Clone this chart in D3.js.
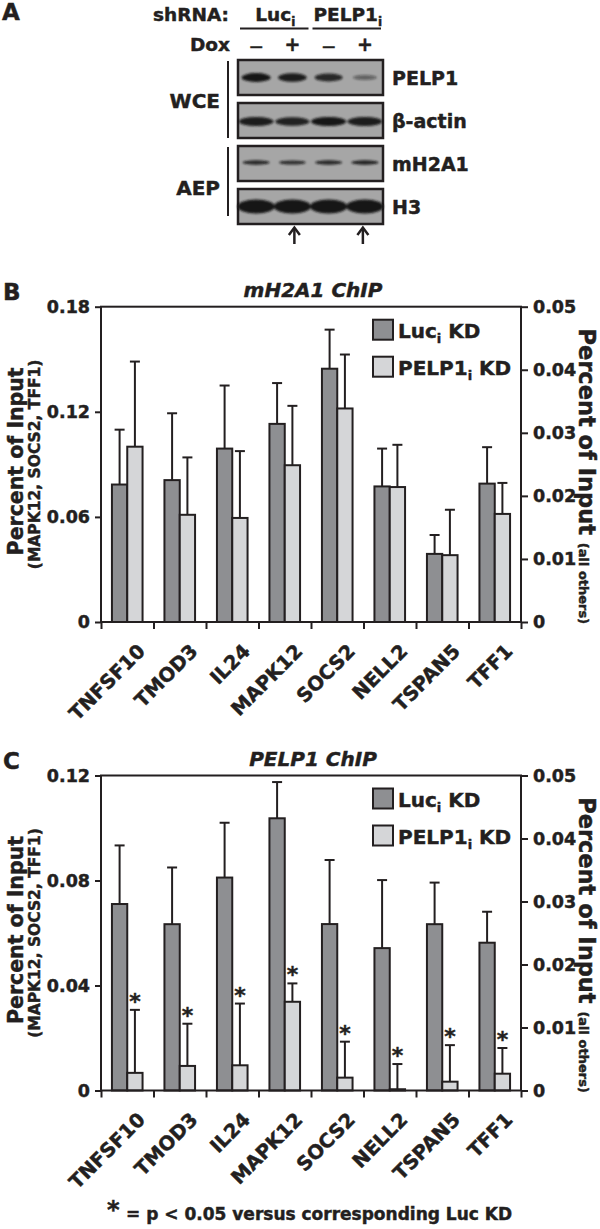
<!DOCTYPE html>
<html><head><meta charset="utf-8">
<script src="https://cdn.jsdelivr.net/npm/d3@7"></script>
<style>
body{margin:0;background:#fff;}
svg{display:block;font-family:"DejaVu Sans",sans-serif;font-weight:bold;}
svg text{stroke:#231f20;stroke-width:0.45px;}
</style></head><body>
<svg id="fig" width="600" height="1229"></svg>
<script>
// ---------------- DATA ----------------
const genes = ["TNFSF10","TMOD3","IL24","MAPK12","SOCS2","NELL2","TSPAN5","TFF1"];
// which y axis each gene is read on (left: MAPK12, SOCS2, TFF1; right: all others)
const axisSide = ["right","right","right","left","left","right","right","left"];
const seriesKeys = ["luc","pelp"];

// Panel B: mH2A1 ChIP (percent of input)
const mh2a1Luc     = [0.0218, 0.0225, 0.0275, 0.1131, 0.1446, 0.0215, 0.0108, 0.0790];
const mh2a1LucErr  = [0.0087, 0.0106, 0.0100, 0.0233, 0.0223, 0.0060, 0.0030, 0.0208];
const mh2a1Pelp    = [0.0278, 0.0170, 0.0165, 0.0895, 0.1219, 0.0214, 0.0106, 0.0617];
const mh2a1PelpErr = [0.0135, 0.0091, 0.0106, 0.0339, 0.0308, 0.0067, 0.0072, 0.0177];

// Panel C: PELP1 ChIP (percent of input)
const pelp1Luc     = [0.0296, 0.0264, 0.0338, 0.1037, 0.0634, 0.0226, 0.0264, 0.0563];
const pelp1LucErr  = [0.0093, 0.0090, 0.0087, 0.0138, 0.0244, 0.0108, 0.0066, 0.0118];
const pelp1Pelp    = [0.0028, 0.0039, 0.0040, 0.0338, 0.0049, 0.0002, 0.0014, 0.0064];
const pelp1PelpErr = [0.0100, 0.0067, 0.0098, 0.0070, 0.0137, 0.0040, 0.0058, 0.0098];
const pelp1Signif  = [true, true, true, true, true, true, true, true];

// axis ticks
const bLeftTicks  = [0, 0.06, 0.12, 0.18];
const cLeftTicks  = [0, 0.04, 0.08, 0.12];
const rightTicks  = [0, 0.01, 0.02, 0.03, 0.04, 0.05];

// Panel A: western blot
const laneIds = ["L-", "L+", "P-", "P+"];
const doxLabels = ["\u2014", "+", "\u2014", "+"];
const shGroups = ["Luc", "PELP1"];
const blotNames = ["PELP1", "\u03b2-actin", "mH2A1", "H3"];
const blotGroups = ["WCE", "AEP"];
const blotIntensity = [
  [1.00, 0.95, 0.85, 0.30],
  [0.95, 0.90, 1.00, 0.95],
  [0.85, 0.80, 0.85, 0.90],
  [1.00, 1.00, 1.00, 1.00]
];
const arrowLanes = [false, true, false, true];

// ---------------- STYLE ----------------
const ink = "#231f20";
const lucFill = "#8e8f92";
const pelpFill = "#d5d6d8";
const svg = d3.select("#fig");

// ---------------- PANEL A ----------------
(function panelA(){
  const g = svg.append("g");
  g.append("text").attr("x", 2).attr("y", 20).style("font-size", "23px").attr("fill", ink).text("A");
  const lane = d3.scaleBand().domain(laneIds).range([238, 383]);
  const lc = d => lane(d) + lane.bandwidth() / 2;

  // header
  g.append("text").attr("x", 229).attr("y", 21).attr("text-anchor", "end").style("font-size", "18.5px").attr("fill", ink).text("shRNA:");
  shGroups.forEach((s, i) => {
    const x0 = lane(laneIds[i * 2]) + 2, x1 = lane(laneIds[i * 2 + 1]) + lane.bandwidth() - 2;
    const t = g.append("text").attr("x", (x0 + x1) / 2 + 1).attr("y", 21).attr("text-anchor", "middle")
      .style("font-size", "18.5px").attr("fill", ink);
    t.append("tspan").text(s);
    t.append("tspan").attr("dy", 5).style("font-size", "12px").text("i");
    g.append("line").attr("x1", x0).attr("x2", x1).attr("y1", 28.5).attr("y2", 28.5).attr("stroke", ink).attr("stroke-width", 2);
  });
  g.append("text").attr("x", 230).attr("y", 51).attr("text-anchor", "end").style("font-size", "18.5px").attr("fill", ink).text("Dox");
  g.selectAll(".dox").data(laneIds).join("text").attr("x", d => lc(d)).attr("y", 51).attr("text-anchor", "middle")
    .style("font-size", (d, i) => doxLabels[i] === "+" ? "19px" : "13px").attr("fill", ink).text((d, i) => doxLabels[i]);

  // blur filter
  const defs = svg.append("defs");
  defs.append("filter").attr("id", "blur").attr("x", "-20%").attr("y", "-60%").attr("width", "140%").attr("height", "220%")
    .append("feGaussianBlur").attr("stdDeviation", 1.1);

  const boxTop = [60, 103, 146, 189], boxH = 35;
  const bandStyle = [
    {rx: 14.5, ry: 4.4, dy: 0},
    {rx: 17.5, ry: 4.6, dy: 1},
    {rx: 14, ry: 2.4, dy: -1},
    {rx: 18.5, ry: 7, dy: 0}
  ];
  blotNames.forEach((name, b) => {
    const y0 = boxTop[b];
    g.append("rect").attr("x", 238).attr("y", y0).attr("width", 145).attr("height", boxH)
      .attr("fill", "#a6a6a6").attr("stroke", ink).attr("stroke-width", 2.5);
    const st = bandStyle[b];
    g.append("g").attr("filter", "url(#blur)").selectAll("ellipse").data(laneIds).join("ellipse")
      .attr("cx", d => lc(d)).attr("cy", y0 + boxH / 2 + st.dy)
      .attr("rx", (d, i) => st.rx * (0.75 + 0.25 * blotIntensity[b][i]))
      .attr("ry", (d, i) => Math.max(0.8, st.ry * (0.35 + 0.65 * blotIntensity[b][i])))
      .attr("fill", "#141414").attr("opacity", (d, i) => 0.25 + 0.75 * blotIntensity[b][i]);
    g.append("text").attr("x", 392).attr("y", y0 + boxH / 2 + 7).style("font-size", "19px").attr("fill", ink).text(name);
  });
  // group brackets
  const grpY = [[61, 138], [147, 216]], grpBase = [108, 195];
  blotGroups.forEach((gname, i) => {
    g.append("line").attr("x1", 228).attr("x2", 228).attr("y1", grpY[i][0]).attr("y2", grpY[i][1]).attr("stroke", ink).attr("stroke-width", 2);
    g.append("text").attr("x", 220).attr("y", grpBase[i]).attr("text-anchor", "end").style("font-size", "20px").attr("fill", ink).text(gname);
  });
  // arrows
  laneIds.forEach((d, i) => {
    if (!arrowLanes[i]) return;
    const x = lc(d) + (i === 1 ? 2 : -2);
    g.append("line").attr("x1", x).attr("x2", x).attr("y1", 244).attr("y2", 228).attr("stroke", ink).attr("stroke-width", 2.5);
    g.append("path").attr("d", `M${x - 5.5},${235} L${x},${227.5} L${x + 5.5},${235}`).attr("fill", "none").attr("stroke", ink).attr("stroke-width", 2.5);
  });
})();

// ---------------- PANELS B & C ----------------
function chartPanel(cfg) {
  const g = svg.append("g");
  const L = 101, R = 521, T = cfg.top, B = cfg.bottom;
  const x0 = d3.scaleBand().domain(genes).range([L, R]).paddingInner(0).paddingOuter(0);
  const x1 = d3.scaleBand().domain(seriesKeys).range([0, x0.bandwidth()]).paddingInner(0).paddingOuter(0.715);
  const xb = d3.scaleLinear().domain([0, genes.length]).range([L, R]);
  const yL = d3.scaleLinear().domain([0, cfg.leftMax]).range([B, T]);
  const yR = d3.scaleLinear().domain([0, 0.05]).range([B, T]);
  const ys = i => axisSide[i] === "left" ? yL : yR;
  const fmt = d => d === 0 ? "0" : d.toFixed(2);

  g.append("text").attr("x", 3).attr("y", T - 7).style("font-size", "23px").attr("fill", ink).text(cfg.letter);
  g.append("text").attr("x", (L + R) / 2 + 2).attr("y", T - 10).attr("text-anchor", "middle")
    .style("font-size", "20px").style("font-style", "italic").attr("fill", ink).text(cfg.title);

  const data = [
    {key: "luc", vals: cfg.luc, errs: cfg.lucErr, fill: lucFill},
    {key: "pelp", vals: cfg.pelp, errs: cfg.pelpErr, fill: pelpFill}
  ];
  data.forEach(s => {
    const gs = g.append("g");
    gs.selectAll("rect").data(genes).join("rect")
      .attr("x", d => x0(d) + x1(s.key)).attr("width", x1.bandwidth())
      .attr("y", (d, i) => ys(i)(s.vals[i])).attr("height", (d, i) => ys(i)(0) - ys(i)(s.vals[i]))
      .attr("fill", s.fill).attr("stroke", ink).attr("stroke-width", 2);
  });
  data.forEach(s => {
    genes.forEach((d, i) => {
      const cx = x0(d) + x1(s.key) + x1.bandwidth() / 2;
      const yTop = ys(i)(s.vals[i] + s.errs[i]), yBar = ys(i)(s.vals[i]);
      g.append("line").attr("x1", cx).attr("x2", cx).attr("y1", yBar).attr("y2", yTop).attr("stroke", ink).attr("stroke-width", 2);
      g.append("line").attr("x1", cx - 5).attr("x2", cx + 5).attr("y1", yTop).attr("y2", yTop).attr("stroke", ink).attr("stroke-width", 2);
      if (s.key === "pelp" && cfg.signif && cfg.signif[i]) {
        g.append("text").attr("x", cx).attr("y", yTop - 1).attr("text-anchor", "middle").style("font-size", "22px").attr("fill", ink).text("*");
      }
    });
  });

  // frame
  g.append("rect").attr("x", L).attr("y", T).attr("width", R - L).attr("height", B - T)
    .attr("fill", "none").attr("stroke", ink).attr("stroke-width", 2);

  // axes
  const axL = g.append("g").attr("transform", `translate(${L},0)`)
    .call(d3.axisLeft(yL).tickValues(cfg.leftTicks).tickFormat(fmt).tickSize(6).tickSizeOuter(0).tickPadding(5));
  const axR = g.append("g").attr("transform", `translate(${R},0)`)
    .call(d3.axisRight(yR).tickValues(rightTicks).tickFormat(fmt).tickSize(7).tickSizeOuter(0).tickPadding(5));
  const axB = g.append("g").attr("transform", `translate(0,${B})`)
    .call(d3.axisBottom(xb).tickValues(d3.range(genes.length + 1)).tickFormat("").tickSize(7).tickSizeOuter(0));
  [axL, axR, axB].forEach(a => {
    a.select(".domain").remove();
    a.selectAll(".tick line").attr("stroke", ink).attr("stroke-width", 2);
    a.selectAll(".tick text").attr("fill", ink).style("font-size", "17.5px").style("font-family", "DejaVu Sans").style("font-weight", "bold");
  });

  // category labels
  g.selectAll(".xl").data(genes).join("text")
    .attr("transform", d => `translate(${x0(d) + x0.bandwidth() / 2 + 19},${B + 30.5}) rotate(-45)`)
    .attr("text-anchor", "end").style("font-size", "19.5px").attr("fill", ink).text(d => d);

  // axis titles
  const mid = (T + B) / 2;
  g.append("text").attr("transform", `translate(23,${mid - 3}) rotate(-90)`).attr("text-anchor", "middle")
    .style("font-size", "20.5px").attr("fill", ink).text("Percent of Input");
  g.append("text").attr("transform", `translate(40,${mid}) rotate(-90)`).attr("text-anchor", "middle")
    .style("font-size", "15.5px").attr("fill", ink).text("(MAPK12, SOCS2, TFF1)");
  const rt = g.append("text").attr("transform", `translate(579,${mid + 12}) rotate(90)`).attr("text-anchor", "middle").attr("fill", ink);
  rt.append("tspan").style("font-size", "22.5px").text("Percent of Input ");
  rt.append("tspan").style("font-size", "13px").text("(all others)");

  // legend
  const leg = [{key: "luc", name: "Luc", fill: lucFill}, {key: "pelp", name: "PELP1", fill: pelpFill}];
  leg.forEach((l, i) => {
    const by = T + 13 + i * 37;
    g.append("rect").attr("x", 373).attr("y", by).attr("width", 20).attr("height", 20)
      .attr("fill", l.fill).attr("stroke", ink).attr("stroke-width", 2);
    const t = g.append("text").attr("x", 398).attr("y", by + 18.5).style("font-size", "20px").attr("fill", ink);
    t.append("tspan").text(l.name);
    t.append("tspan").attr("dy", 5).style("font-size", "13px").text("i");
    t.append("tspan").attr("dy", -5).text(" KD");
  });
}

chartPanel({letter: "B", title: "mH2A1 ChIP", top: 306.7, bottom: 622, leftMax: 0.18, leftTicks: bLeftTicks,
  luc: mh2a1Luc, lucErr: mh2a1LucErr, pelp: mh2a1Pelp, pelpErr: mh2a1PelpErr});
chartPanel({letter: "C", title: "PELP1 ChIP", top: 775.5, bottom: 1090.5, leftMax: 0.12, leftTicks: cLeftTicks,
  luc: pelp1Luc, lucErr: pelp1LucErr, pelp: pelp1Pelp, pelpErr: pelp1PelpErr, signif: pelp1Signif});

// footnote
svg.append("text").attr("x", 107).attr("y", 1218).style("font-size", "24px").attr("fill", ink).text("*");
svg.append("text").attr("x", 126).attr("y", 1220).style("font-size", "17px").attr("fill", ink).text("= p < 0.05 versus corresponding Luc KD");
</script>
</body></html>
